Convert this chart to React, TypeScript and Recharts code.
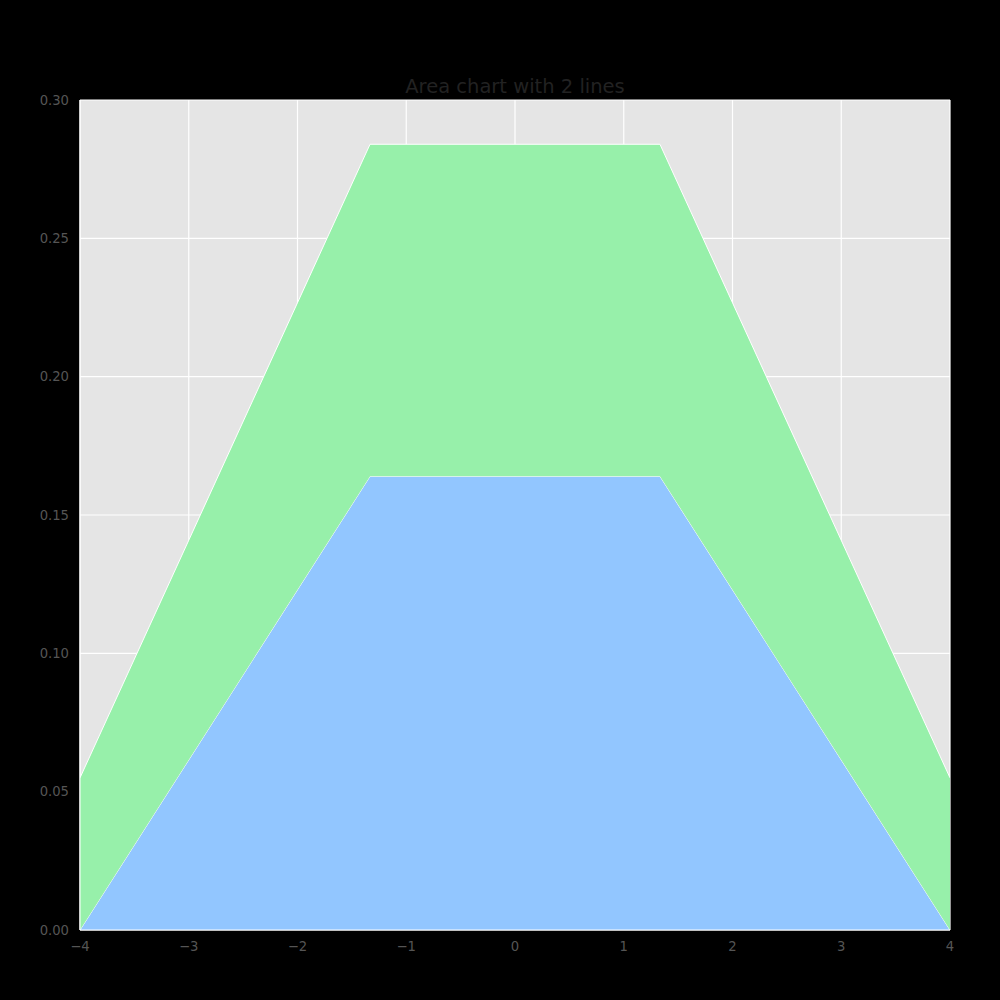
import React from 'react';
import { AreaChart, Area, XAxis, YAxis, CartesianGrid } from 'recharts';

const xValues = [-4, -1.333, 0, 1.333, 4];
const lowerValues = [0, 0.164, 0.164, 0.164, 0];
const upperValues = [0.055, 0.12, 0.12, 0.12, 0.055];

const xTicks = [-4, -3, -2, -1, 0, 1, 2, 3, 4];
const yTicks = [0, 0.05, 0.1, 0.15, 0.2, 0.25, 0.3];

const data = xValues.map((x, i) => ({ x, lower: lowerValues[i], upper: upperValues[i] }));

const fmtX = (v: number) => (v < 0 ? `\u2212${Math.abs(v)}` : `${v}`);

export default function App() {
    return (
        <div style={{ position: 'absolute', left: 0, top: 0, width: 1000, height: 1000, background: '#000', fontFamily: 'DejaVu Sans' }}>
            <div
                style={{
                    position: 'absolute',
                    left: 80,
                    width: 870,
                    top: 74,
                    textAlign: 'center',
                    fontSize: 19.5,
                    color: '#222',
                    lineHeight: '26px',
                }}
            >
                Area chart with 2 lines
            </div>
            <AreaChart
                width={1000}
                height={1000}
                data={data}
                margin={{ top: 100, right: 50, bottom: 0, left: 0 }}
            >
                <CartesianGrid fill="#e5e5e5" stroke="#ffffff" strokeWidth={1.2} />
                <XAxis
                    dataKey="x"
                    type="number"
                    domain={[-4, 4]}
                    ticks={xTicks}
                    tickFormatter={fmtX}
                    height={70}
                    tickLine={false}
                    tickMargin={6}
                    axisLine={{ stroke: '#ffffff' }}
                    tick={{ fontSize: 13.2, fill: '#555' }}
                    allowDataOverflow
                />
                <YAxis
                    type="number"
                    domain={[0, 0.3]}
                    ticks={yTicks}
                    tickFormatter={(v: number) => v.toFixed(2)}
                    width={80}
                    tickLine={false}
                    tickMargin={5}
                    axisLine={{ stroke: '#ffffff' }}
                    tick={{ fontSize: 13.2, fill: '#555' }}
                    allowDataOverflow
                />
                <Area
                    type="linear"
                    dataKey="lower"
                    stackId="1"
                    fill="#92C6FF"
                    fillOpacity={1}
                    stroke="#ffffff"
                    strokeWidth={1}
                    isAnimationActive={false}
                />
                <Area
                    type="linear"
                    dataKey="upper"
                    stackId="1"
                    fill="#97F0AA"
                    fillOpacity={1}
                    stroke="#ffffff"
                    strokeWidth={1}
                    isAnimationActive={false}
                />
            </AreaChart>
        </div>
    );
}
